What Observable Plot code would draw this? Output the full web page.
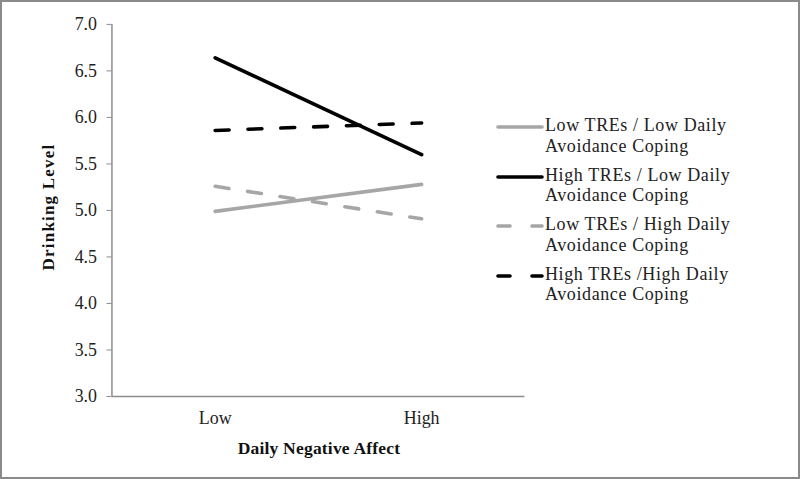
<!DOCTYPE html>
<html>
<head>
<meta charset="utf-8">
<script src="https://cdn.jsdelivr.net/npm/d3@7"></script>
<script src="https://cdn.jsdelivr.net/npm/@observablehq/plot@0.6"></script>
<style>
  html, body { margin: 0; padding: 0; background: #fff; }
  #chart { position: relative; width: 800px; height: 479px; box-sizing: border-box; border: 2px solid #8a8a8a; overflow: hidden; font-family: "Liberation Serif", "Times New Roman", serif; color: #222; }
  #chart > svg { position: absolute; left: -2px; top: -2px; }
  .ylab { position: absolute; left: 47px; top: 205px; transform: translate(-50%, -50%) rotate(-90deg); font-weight: bold; font-size: 17px; letter-spacing: 1.2px; white-space: nowrap; color: #111; }
  .xlab { position: absolute; left: 317px; top: 446px; transform: translate(-50%, -50%); font-weight: bold; font-size: 17.5px; letter-spacing: 0.2px; white-space: nowrap; color: #111; }
  .legend { position: absolute; left: 493px; top: 113px; font-size: 18px; letter-spacing: 0.6px; line-height: 20.5px; color: #222; }
  .item { display: flex; align-items: flex-start; margin-bottom: 8.5px; }
  .item svg { flex: none; margin-top: 1px; }
</style>
</head>
<body>
<div id="chart"></div>
<script>
const categories = ["Low", "High"];
const seriesNames = [
  "Low TREs / Low Daily Avoidance Coping",
  "High TREs / Low Daily Avoidance Coping",
  "Low TREs / High Daily Avoidance Coping",
  "High TREs /High Daily Avoidance Coping"
];
const legendLines = [
  ["Low TREs / Low Daily", "Avoidance Coping"],
  ["High TREs / Low Daily", "Avoidance Coping"],
  ["Low TREs / High Daily", "Avoidance Coping"],
  ["High TREs /High Daily", "Avoidance Coping"]
];
const lowTresLowDac = [4.99, 5.28];
const highTresLowDac = [6.64, 5.60];
const lowTresHighDac = [5.26, 4.91];
const highTresHighDac = [5.86, 5.94];
const yTicks = [3.0, 3.5, 4.0, 4.5, 5.0, 5.5, 6.0, 6.5, 7.0];

const seriesValues = [lowTresLowDac, highTresLowDac, lowTresHighDac, highTresHighDac];
const colors = ["#a6a6a6", "#000000", "#a6a6a6", "#000000"];
const dashes = [null, null, "14,19", "14,19"];

const data = [];
seriesNames.forEach((s, i) => {
  categories.forEach((c, j) => {
    data.push({series: s, idx: i, cat: c, x: j + 0.5, y: seriesValues[i][j]});
  });
});

const marks = [
  Plot.ruleY([3], {stroke: "#8c8c8c", strokeWidth: 1.5}),
  Plot.ruleX([0], {stroke: "#8c8c8c", strokeWidth: 1.5}),
  Plot.axisY({ticks: yTicks, tickFormat: d => d.toFixed(1), tickSize: 5, tickPadding: 10, stroke: "#8c8c8c", fontSize: 18, label: null, fill: "#222", style: "letter-spacing:1px"}),
  Plot.axisX({ticks: categories.map((c, j) => j + 0.5), tickFormat: d => categories[Math.round(d - 0.5)], tickSize: 0, tickPadding: 15, fontSize: 18, label: null, fill: "#222", style: "letter-spacing:0.8px"})
];
seriesNames.forEach((s, i) => {
  marks.push(Plot.line(data.filter(d => d.idx === i), {
    x: "x", y: "y", stroke: colors[i], strokeWidth: 3.6,
    strokeDasharray: dashes[i] || undefined,
    strokeLinecap: "round"
  }));
});

const plot = Plot.plot({
  width: 800,
  height: 479,
  marginLeft: 112,
  marginRight: 273,
  marginTop: 24,
  marginBottom: 81,
  style: {fontFamily: "'Liberation Serif', 'Times New Roman', serif", background: "transparent", overflow: "visible"},
  x: {domain: [0, 2], axis: null},
  y: {domain: [3, 7], axis: null},
  marks
});

const chart = document.getElementById("chart");
chart.appendChild(plot);

const yl = document.createElement("div");
yl.className = "ylab"; yl.textContent = "Drinking Level";
chart.appendChild(yl);
const xl = document.createElement("div");
xl.className = "xlab"; xl.textContent = "Daily Negative Affect";
chart.appendChild(xl);

const lg = document.createElement("div");
lg.className = "legend";
legendLines.forEach((lines, i) => {
  const item = document.createElement("div");
  item.className = "item";
  const ns = "http://www.w3.org/2000/svg";
  const sv = document.createElementNS(ns, "svg");
  sv.setAttribute("width", 50); sv.setAttribute("height", 20);
  const ln = document.createElementNS(ns, "line");
  ln.setAttribute("x1", 3); ln.setAttribute("x2", 47);
  ln.setAttribute("y1", 11); ln.setAttribute("y2", 11);
  ln.setAttribute("stroke", colors[i]); ln.setAttribute("stroke-width", 3.6);
  ln.setAttribute("stroke-linecap", "round");
  if (dashes[i]) ln.setAttribute("stroke-dasharray", "12,22");
  sv.appendChild(ln);
  item.appendChild(sv);
  const tx = document.createElement("div");
  tx.innerHTML = lines.map(t => t.replace(/&/g, "&amp;")).join("<br>");
  item.appendChild(tx);
  lg.appendChild(item);
});
chart.appendChild(lg);
</script>
</body>
</html>
